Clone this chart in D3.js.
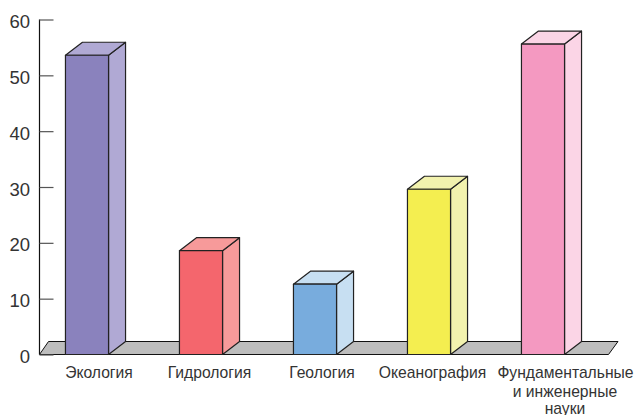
<!DOCTYPE html>
<html>
<head>
<meta charset="utf-8">
<script src="https://cdn.jsdelivr.net/npm/d3@7"></script>
<style>
  html, body { margin: 0; padding: 0; background: #fff; }
  svg { display: block; }
  text { font-family: "Liberation Sans", Arial, sans-serif; fill: #333; }
</style>
</head>
<body>
<svg id="chart"></svg>
<script>
// DATA
const categories = ["Экология", "Гидрология", "Геология", "Океанография", "Фундаментальные"];
const values = [53.6, 18.6, 12.6, 29.6, 55.6];
const yTicks = [0, 10, 20, 30, 40, 50, 60];
const frontColors = ["#8a82bd", "#f4666d", "#78acdd", "#f4ee50", "#f499c1"];
const sideColors = ["#b0a9d4", "#f79a9a", "#c7dff2", "#f2f2ae", "#fbd5e6"];
const extraLines = ["и инженерные", "науки"];

// SET VARIABLES
const _width = 635, _height = 415;
const _depth = {x: 17, y: 13};
const _labelShift = [12, 8.5, 7, 3.5, 22.5];

const svg = d3.select("#chart").attr("width", _width).attr("height", _height);

const y = d3.scaleLinear().domain([0, 60]).range([354.5, 19.5]);
const x = d3.scaleBand().domain(categories).range([30, 600]).paddingInner(0.622).paddingOuter(0.311);
const line = d3.line();

// FLOOR
svg.append("path")
    .attr("d", line([[39.5, y(0)], [48.5, y(0) - 13], [618, y(0) - 13], [608.5, y(0)]]) + "Z")
    .attr("fill", "#bdbdbd")
    .attr("stroke", "#111")
    .attr("stroke-width", 1);

// AXIS
const axis = svg.append("g")
    .attr("transform", "translate(39.5, 0)")
    .call(d3.axisRight(y).tickValues(yTicks).tickSize(14).tickFormat(""));
axis.select(".domain").attr("stroke", "#111").attr("stroke-width", 1.2).attr("d", `M0,${y(60)}V${y(0)}`);
axis.selectAll(".tick line").attr("stroke", "#555").attr("stroke-width", 1.2);

svg.append("g").selectAll("text")
    .data(yTicks)
    .enter()
  .append("text")
    .attr("x", 30)
    .attr("y", d => y(d) + 8.5)
    .attr("text-anchor", "end")
    .attr("font-size", 18.5)
    .text(d => d);

// BARS
const bars = svg.append("g").selectAll("g")
    .data(categories)
    .enter()
  .append("g");

function corners(d, i) {
  const x0 = x(d), x1 = x(d) + x.bandwidth(), t = y(values[i]), b = y(0);
  return {x0, x1, t, b};
}

bars.append("path")
    .attr("d", (d, i) => {
      const c = corners(d, i);
      return line([[c.x1, c.b], [c.x1 + _depth.x, c.b - _depth.y], [c.x1 + _depth.x, c.t - _depth.y], [c.x1, c.t]]) + "Z";
    })
    .attr("fill", (d, i) => sideColors[i]);

bars.append("path")
    .attr("d", (d, i) => {
      const c = corners(d, i);
      return line([[c.x0, c.t], [c.x0 + _depth.x, c.t - _depth.y], [c.x1 + _depth.x, c.t - _depth.y], [c.x1, c.t]]) + "Z";
    })
    .attr("fill", (d, i) => sideColors[i]);

bars.append("rect")
    .attr("x", d => x(d))
    .attr("y", (d, i) => y(values[i]))
    .attr("width", x.bandwidth())
    .attr("height", (d, i) => y(0) - y(values[i]))
    .attr("fill", (d, i) => frontColors[i]);

bars.selectAll("path, rect")
    .attr("stroke", "#222")
    .attr("stroke-width", 1.2)
    .attr("stroke-linejoin", "round");

// LABELS
svg.append("g").selectAll("text")
    .data(categories)
    .enter()
  .append("text")
    .attr("x", (d, i) => x(d) + x.bandwidth() / 2 + _labelShift[i])
    .attr("y", 378)
    .attr("text-anchor", "middle")
    .attr("font-size", 15.7)
    .text(d => d);

svg.append("g").selectAll("text")
    .data(extraLines)
    .enter()
  .append("text")
    .attr("x", 565)
    .attr("y", (d, i) => 397 + i * 16.5)
    .attr("text-anchor", "middle")
    .attr("font-size", 15.7)
    .text(d => d);
</script>
</body>
</html>
